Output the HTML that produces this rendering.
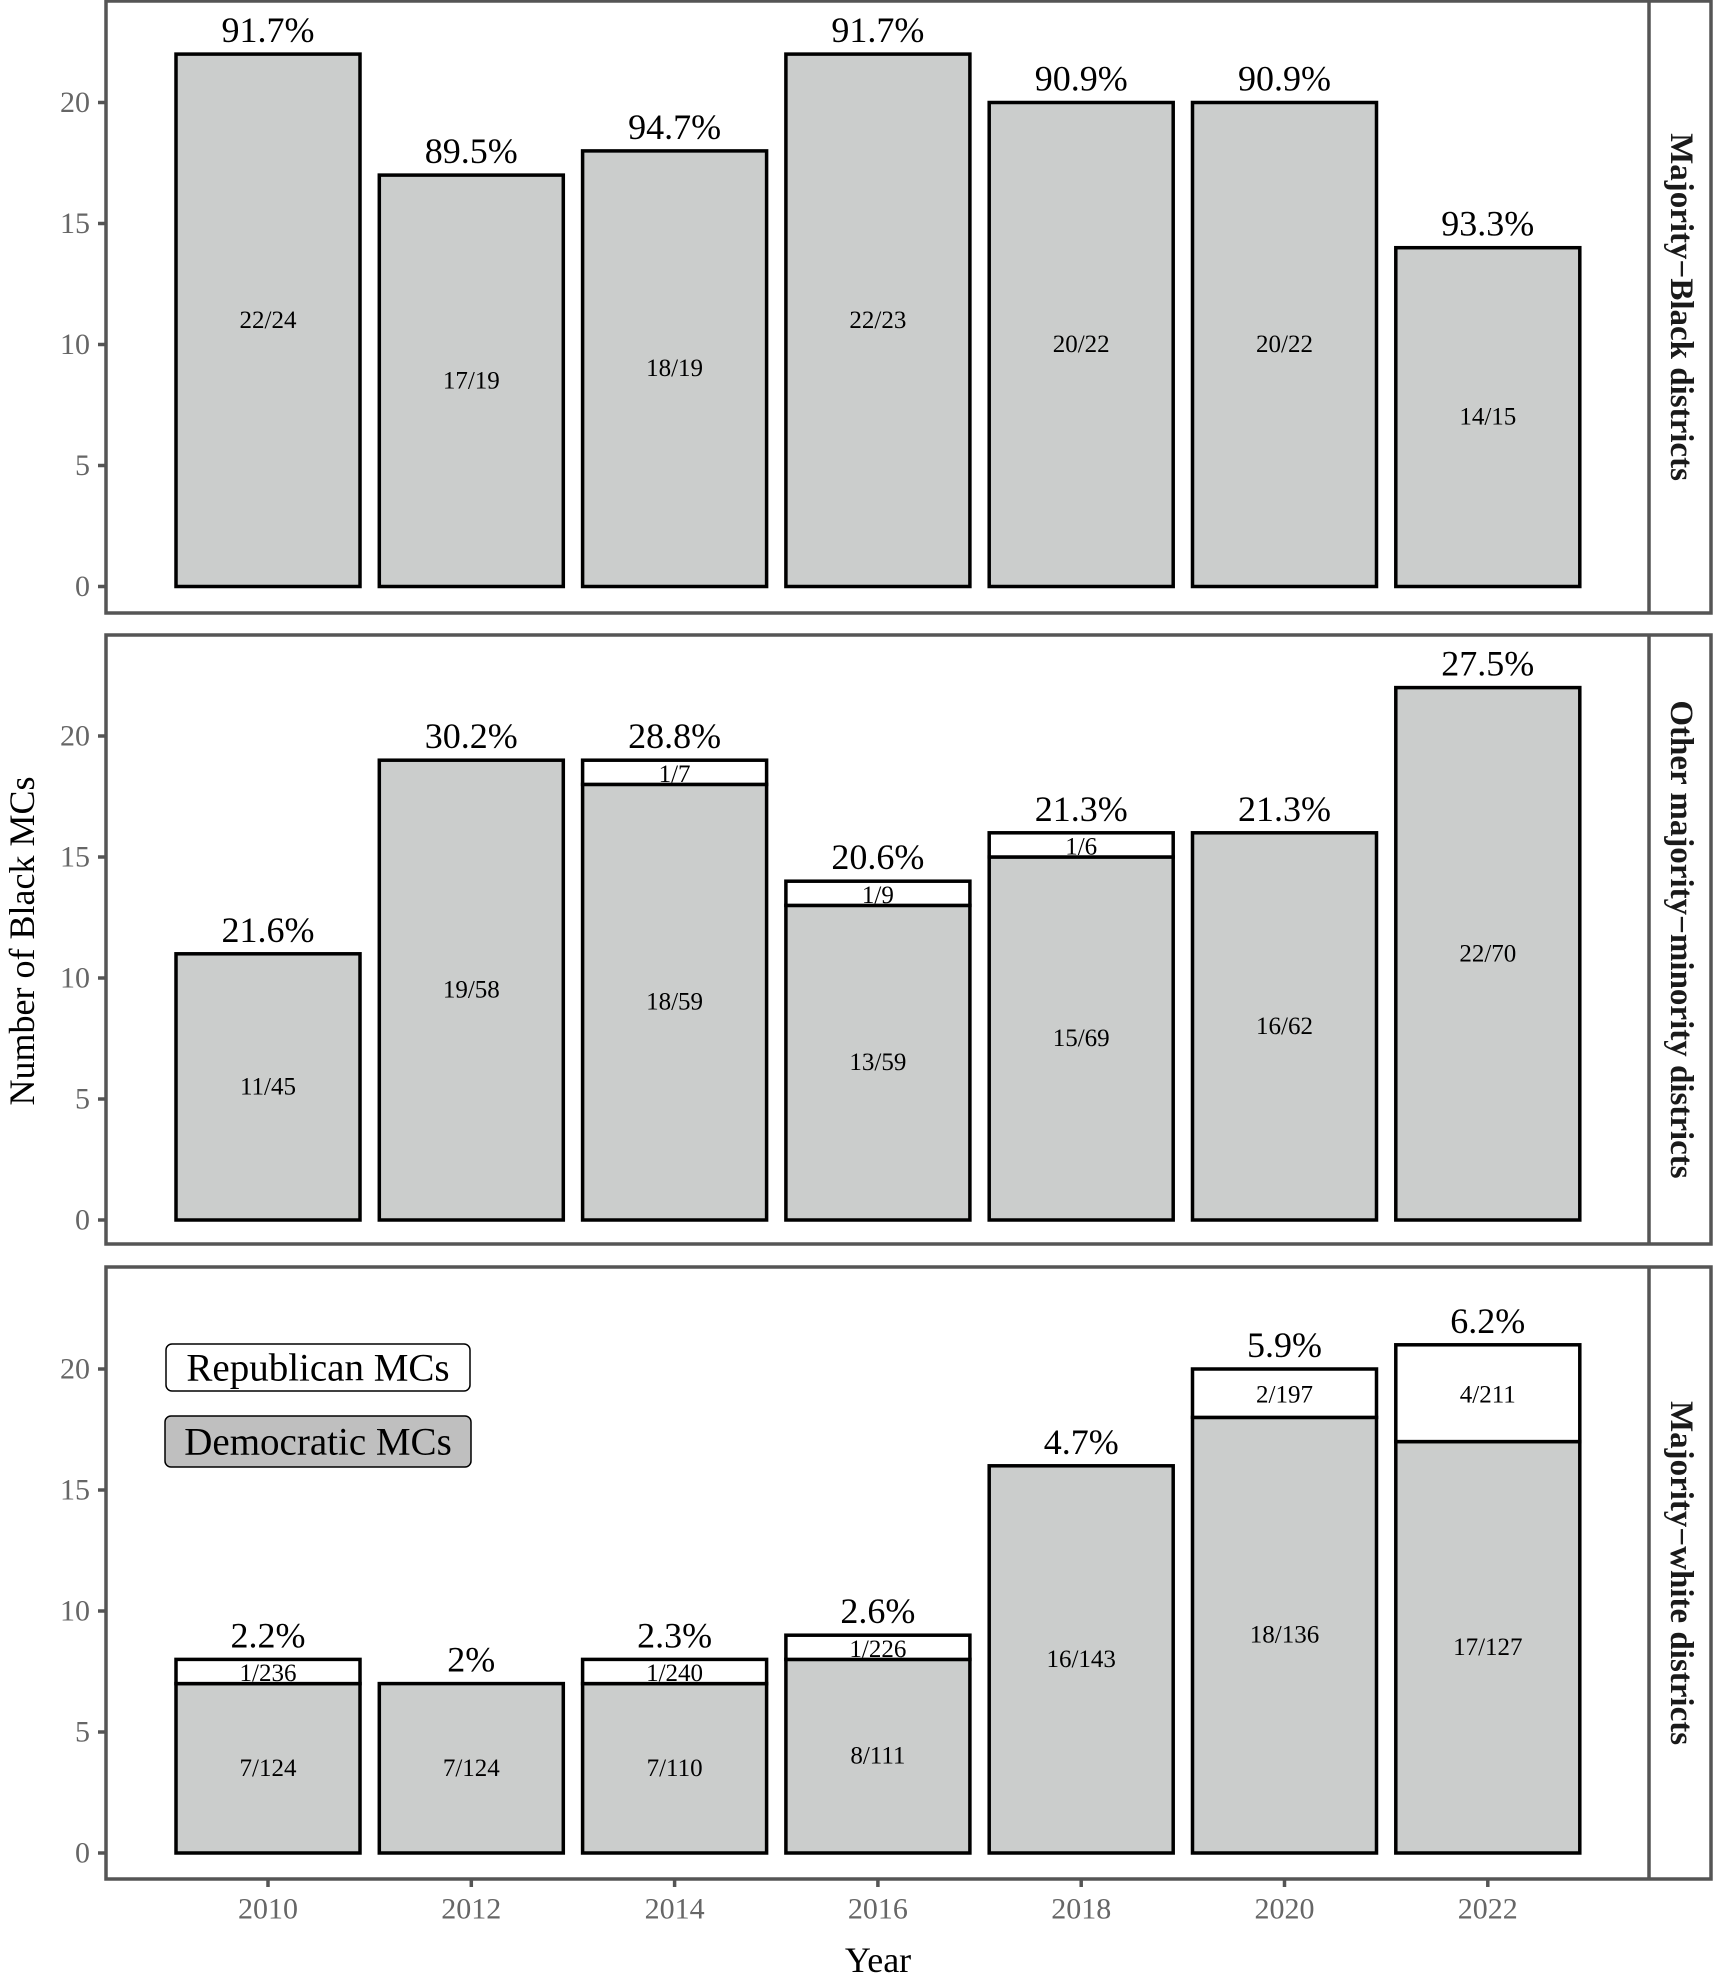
<!DOCTYPE html>
<html><head><meta charset="utf-8"><style>
html,body{margin:0;padding:0;background:#fff;}
svg{display:block;font-family:"Liberation Serif",serif;}
</style></head><body>
<svg id="s" width="1714" height="1986" viewBox="0 0 1714 1986" xmlns="http://www.w3.org/2000/svg"></svg>
<script>
const S=document.getElementById('s');let h='';
const panels=[
 {top:1,bot:613,zero:586.5,strip:"Majority\u2212Black districts",
  dem:[22,17,18,22,20,20,14],rep:[0,0,0,0,0,0,0],
  pct:["91.7%","89.5%","94.7%","91.7%","90.9%","90.9%","93.3%"],
  dl:["22/24","17/19","18/19","22/23","20/22","20/22","14/15"],rl:[]},
 {top:635,bot:1244,zero:1220,strip:"Other majority\u2212minority districts",
  dem:[11,19,18,13,15,16,22],rep:[0,0,1,1,1,0,0],
  pct:["21.6%","30.2%","28.8%","20.6%","21.3%","21.3%","27.5%"],
  dl:["11/45","19/58","18/59","13/59","15/69","16/62","22/70"],rl:["","","1/7","1/9","1/6","",""]},
 {top:1267,bot:1879,zero:1853,strip:"Majority\u2212white districts",
  dem:[7,7,7,8,16,18,17],rep:[1,0,1,1,0,2,4],
  pct:["2.2%","2%","2.3%","2.6%","4.7%","5.9%","6.2%"],
  dl:["7/124","7/124","7/110","8/111","16/143","18/136","17/127"],rl:["1/236","","1/240","1/226","","2/197","4/211"]}
];
const U=24.2,L=106,R=1649,SR=1711;
panels.forEach((p,pi)=>{
 for(let t=0;t<=20;t+=5){const y=p.zero-t*U;
  h+=`<line x1="${L-8}" x2="${L}" y1="${y}" y2="${y}" stroke="#555" stroke-width="3.5"/>`;
  h+=`<text x="${L-16}" y="${y}" dominant-baseline="central" text-anchor="end" font-size="30" fill="#666">${t}</text>`;}
 for(let i=0;i<7;i++){
  const x=176+203.3*i,w=184,cx=x+w/2;
  const yd=p.zero-p.dem[i]*U,yr=yd-p.rep[i]*U;
  h+=`<rect x="${x}" y="${yd}" width="${w}" height="${p.zero-yd}" fill="#cbcdcc" stroke="#000" stroke-width="3.5"/>`;
  if(p.rep[i]>0){h+=`<rect x="${x}" y="${yr}" width="${w}" height="${yd-yr}" fill="#fff" stroke="#000" stroke-width="3.5"/>`;
   h+=`<text x="${cx}" y="${(yr+yd)/2+2}" dominant-baseline="central" text-anchor="middle" font-size="25">${p.rl[i]}</text>`;}
  h+=`<text x="${cx}" y="${(yd+p.zero)/2}" dominant-baseline="central" text-anchor="middle" font-size="25">${p.dl[i]}</text>`;
  h+=`<text x="${cx}" y="${yr-12}" text-anchor="middle" font-size="36">${p.pct[i]}</text>`;
 }
 h+=`<rect x="${L}" y="${p.top}" width="${SR-L}" height="${p.bot-p.top}" fill="none" stroke="#555" stroke-width="3.5"/>`;
 h+=`<line x1="${R}" x2="${R}" y1="${p.top}" y2="${p.bot}" stroke="#555" stroke-width="3.5"/>`;
 const my=(p.top+p.bot)/2;
 h+=`<text transform="translate(1681,${my}) rotate(90)" dominant-baseline="central" text-anchor="middle" font-size="33" font-weight="bold" fill="#1a1a1a">${p.strip}</text>`;
});
for(let i=0;i<7;i++){const cx=268+203.3*i;
 h+=`<line x1="${cx}" x2="${cx}" y1="1879" y2="1887" stroke="#555" stroke-width="3.5"/>`;
 h+=`<text x="${cx}" y="1909" dominant-baseline="central" text-anchor="middle" font-size="30" fill="#666">${2010+2*i}</text>`;}
h+=`<text x="878" y="1960" dominant-baseline="central" text-anchor="middle" font-size="36">Year</text>`;
h+=`<text transform="translate(22,941) rotate(-90)" dominant-baseline="central" text-anchor="middle" font-size="36">Number of Black MCs</text>`;
h+=`<rect x="166" y="1344" width="304" height="47" rx="6" fill="#fff" stroke="#000" stroke-width="1.5"/>`;
h+=`<text x="318" y="1368" dominant-baseline="central" text-anchor="middle" font-size="39">Republican MCs</text>`;
h+=`<rect x="165" y="1416" width="306" height="51" rx="6" fill="#bfbfbf" stroke="#000" stroke-width="1.5"/>`;
h+=`<text x="318" y="1442" dominant-baseline="central" text-anchor="middle" font-size="39">Democratic MCs</text>`;
S.innerHTML=h;
</script>
</body></html>
